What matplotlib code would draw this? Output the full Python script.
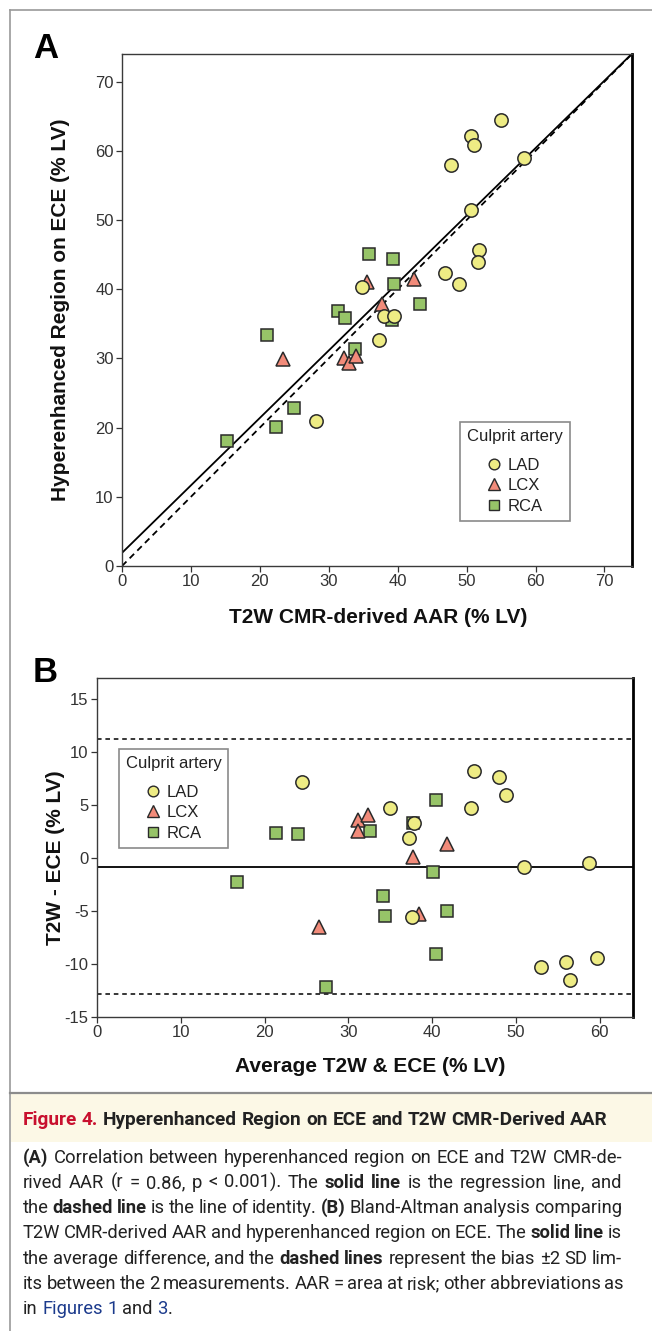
import matplotlib
matplotlib.use("Agg")
import matplotlib.pyplot as plt
from matplotlib.lines import Line2D
from matplotlib.patches import Rectangle

plt.rcParams["font.family"] = ["Liberation Sans", "DejaVu Sans"]
plt.rcParams["axes.unicode_minus"] = False

W, H = 652, 1331

# ---- panel A: hyperenhanced region on ECE vs T2W AAR
a_lad_x = [55.0, 50.6, 51.1, 47.7, 58.4, 50.6, 51.8, 51.7, 46.9, 48.9, 34.8, 38.0, 39.5, 37.3, 28.1]
a_lad_y = [64.4, 62.1, 60.8, 58.0, 58.9, 51.5, 45.7, 43.9, 42.3, 40.8, 40.3, 36.1, 36.2, 32.7, 20.9]
a_lcx_x = [35.6, 42.3, 37.7, 23.3, 32.2, 33.0, 34.0]
a_lcx_y = [41.0, 41.5, 37.9, 29.9, 30.0, 29.4, 30.4]
a_rca_x = [35.9, 39.3, 39.4, 43.2, 31.4, 32.3, 39.2, 21.0, 33.8, 25.0, 22.4, 15.3]
a_rca_y = [45.1, 44.4, 40.8, 37.9, 36.9, 35.9, 35.5, 33.4, 31.3, 22.9, 20.1, 18.0]
reg_intercept = 1.9
reg_slope = 0.975

# ---- panel B: Bland-Altman
b_lad_x = [24.5, 35.0, 37.8, 37.2, 37.6, 45.0, 48.0, 48.8, 44.7, 51.0, 58.7, 53.0, 56.0, 56.5, 59.7]
b_lad_y = [7.2, 4.7, 3.3, 1.9, -5.6, 8.2, 7.7, 6.0, 4.7, -0.8, -0.5, -10.3, -9.8, -11.5, -9.4]
b_lcx_x = [31.2, 32.3, 31.2, 37.7, 41.8, 38.4, 26.5]
b_lcx_y = [3.6, 4.1, 2.6, 0.1, 1.3, -5.3, -6.5]
b_rca_x = [40.5, 37.7, 21.4, 24.0, 32.6, 16.7, 40.1, 34.1, 34.4, 41.8, 40.5, 27.4]
b_rca_y = [5.5, 3.3, 2.4, 2.3, 2.6, -2.3, -1.3, -3.6, -5.5, -5.0, -9.1, -12.2]
bias = -0.8
loa_upper = 11.2
loa_lower = -12.8

groups = ["LAD", "LCX", "RCA"]
marker_style = {
    "LAD": dict(marker="o", ms=9.6, mfc="#eeec84"),
    "LCX": dict(marker="^", ms=10.0, mfc="#f28b7a"),
    "RCA": dict(marker="s", ms=9.2, mfc="#97c468"),
}
EDGE = "#2a2a2a"

caption_title = [("Figure 4.", "red"), (" Hyperenhanced Region on ECE and T2W CMR-Derived AAR", "bold")]
caption_lines = [
    [("(A)", "bold"), (" Correlation between hyperenhanced region on ECE and T2W CMR-de-", "n")],
    [("rived AAR (r = 0.86, p < 0.001). The ", "n"), ("solid line", "bold"), (" is the regression line, and", "n")],
    [("the ", "n"), ("dashed line", "bold"), (" is the line of identity. ", "n"), ("(B)", "bold"),
     (" Bland-Altman analysis comparing", "n")],
    [("T2W CMR-derived AAR and hyperenhanced region on ECE. The ", "n"), ("solid line", "bold"), (" is", "n")],
    [("the average difference, and the ", "n"), ("dashed lines", "bold"), (" represent the bias ±2 SD lim-", "n")],
    [("its between the 2 measurements. AAR = area at risk; other abbreviations as", "n")],
    [("in ", "n"), ("Figures 1", "link"), (" and ", "n"), ("3", "link"), (".", "n")],
]


def fx(px):
    return px / W


def fy(py):
    return 1 - py / H


def style_axes(ax):
    for side in ["left", "bottom", "top"]:
        ax.spines[side].set_color("#3a3a3a")
        ax.spines[side].set_linewidth(1.0)
    ax.spines["right"].set_color("black")
    ax.spines["right"].set_linewidth(2.0)
    ax.tick_params(length=4, width=0.9, color="#333333", labelsize=12,
                   labelcolor="#333333", pad=2)


def add_legend(ax, anchor):
    handles = [Line2D([], [], ls="none", mec=EDGE, mew=1.0, **marker_style[g]) for g in groups]
    leg = ax.legend(handles, groups, title="Culprit artery", loc="upper left",
                    bbox_to_anchor=anchor, borderaxespad=0, fancybox=False,
                    edgecolor="#8a8a8a", framealpha=1, fontsize=12, title_fontsize=12,
                    handlelength=0.9, handletextpad=0.35, labelspacing=0.32,
                    borderpad=0.42, markerscale=0.8)
    leg.get_frame().set_linewidth(1.2)
    leg._legend_box.sep = 10
    leg.get_title().set_color("#222222")
    for t in leg.get_texts():
        t.set_color("#222222")
    return leg


fig = plt.figure(figsize=(W / 100, H / 100), dpi=100)

# page frame, separator and title band
fig.add_artist(Line2D([fx(10), fx(10)], [0, fy(10)], color="#9a9a9a", lw=1.2))
fig.add_artist(Line2D([fx(10), 1], [fy(10), fy(10)], color="#9a9a9a", lw=1.2))
fig.add_artist(Rectangle((fx(11), fy(1142)), 1 - fx(11), (1142 - 1094) / H,
                         transform=fig.transFigure, color="#fcf8e6", lw=0))
fig.add_artist(Line2D([fx(10), 1], [fy(1093), fy(1093)], color="#8c8c8c", lw=1.6))

# ---- panel A
ax1 = fig.add_axes([fx(122), fy(566), 510 / W, 512 / H])
ax1.set_xlim(0, 74)
ax1.set_ylim(0, 74)
ax1.set_xticks(range(0, 71, 10))
ax1.set_yticks(range(0, 71, 10))
style_axes(ax1)
lim = [0, 74]
ax1.plot(lim, [reg_intercept + reg_slope * v for v in lim], color="black", lw=1.3, zorder=2)
ax1.plot(lim, lim, color="black", lw=1.3, ls=(0, (3.5, 2.5)), zorder=2)
for g, x, y in [("RCA", a_rca_x, a_rca_y), ("LCX", a_lcx_x, a_lcx_y), ("LAD", a_lad_x, a_lad_y)]:
    ax1.plot(x, y, ls="none", mec=EDGE, mew=1.1, zorder=3, **marker_style[g])
ax1.set_xlabel("T2W CMR-derived AAR (% LV)", fontsize=15, fontweight="bold", color="#111111")
ax1.xaxis.set_label_coords(0.502, -0.10)
ax1.xaxis.label.set_va("center")
ax1.set_ylabel("Hyperenhanced Region on ECE (% LV)", fontsize=15, fontweight="bold", color="#111111")
ax1.yaxis.set_label_coords(-0.12, 0.5)
ax1.yaxis.label.set_va("center")
add_legend(ax1, ((460 - 122) / 510, (566 - 422) / 512))
fig.text(fx(33), fy(48), "A", fontsize=25, fontweight="bold", va="center", ha="left")

# ---- panel B
ax2 = fig.add_axes([fx(97), fy(1017), 536 / W, 339 / H])
ax2.set_xlim(0, 64)
ax2.set_ylim(-15, 17)
ax2.set_xticks(range(0, 61, 10))
ax2.set_yticks(range(-15, 16, 5))
style_axes(ax2)
ax2.axhline(bias, color="black", lw=1.3, zorder=2)
for v in [loa_upper, loa_lower]:
    ax2.axhline(v, color="black", lw=1.1, ls=(0, (3, 2.5)), zorder=2)
for g, x, y in [("RCA", b_rca_x, b_rca_y), ("LCX", b_lcx_x, b_lcx_y), ("LAD", b_lad_x, b_lad_y)]:
    ax2.plot(x, y, ls="none", mec=EDGE, mew=1.1, zorder=3, **marker_style[g])
ax2.set_xlabel("Average T2W & ECE (% LV)", fontsize=15, fontweight="bold", color="#111111")
ax2.xaxis.set_label_coords(0.51, -0.145)
ax2.xaxis.label.set_va("center")
ax2.set_ylabel("T2W - ECE (% LV)", fontsize=15, fontweight="bold", color="#111111")
ax2.yaxis.set_label_coords(-0.077, 0.47)
ax2.yaxis.label.set_va("center")
add_legend(ax2, ((118.5 - 97) / 536, (1017 - 749) / 339))
fig.text(fx(33), fy(673), "B", fontsize=25, fontweight="bold", va="center", ha="left")

# ---- caption
cap_family = ["Roboto", "DejaVu Sans"]
styles = {
    "n": dict(color="#222222", fontweight="normal"),
    "bold": dict(color="#222222", fontweight="bold"),
    "red": dict(color="#c8102e", fontweight="bold"),
    "link": dict(color="#1b3a8c", fontweight="normal"),
}
renderer = fig.canvas.get_renderer()


def make_text(s, style, size):
    return fig.text(0, 0, s, fontsize=size, family=cap_family, va="baseline", ha="left",
                    **styles[style])


def width_of(t):
    return t.get_window_extent(renderer).width


def split_words(segments):
    words, cur = [], []
    for text, style in segments:
        parts = text.split(" ")
        for i, p in enumerate(parts):
            if i > 0:
                words.append(cur)
                cur = []
            if p:
                cur.append((p, style))
    words.append(cur)
    return [w for w in words if w]


def draw_line(segments, left, baseline, size, right=None):
    probe_a = make_text("x x", "n", size)
    probe_b = make_text("xx", "n", size)
    space_w = width_of(probe_a) - width_of(probe_b)
    probe_a.remove()
    probe_b.remove()
    words = split_words(segments)
    placed = []
    total = 0
    for w in words:
        runs = []
        ww = 0
        for s, st in w:
            t = make_text(s, st, size)
            tw = width_of(t)
            runs.append((t, tw))
            ww += tw
        placed.append((runs, ww))
        total += ww
    gap = space_w
    if right is not None and len(words) > 1:
        gap = max((right - left - total) / (len(words) - 1), space_w * 0.8)
    x = left
    for runs, ww in placed:
        for t, tw in runs:
            t.set_position((fx(x), fy(baseline)))
            x += tw
        x += gap


draw_line(caption_title, 23, 1125, 13.7)
baselines = [1163, 1188, 1213, 1238.5, 1263.5, 1289, 1314]
for i, (segs, b) in enumerate(zip(caption_lines, baselines)):
    draw_line(segs, 23, b, 13.2, right=None if i == len(caption_lines) - 1 else 622)

fig.savefig("out.png", dpi=100)
